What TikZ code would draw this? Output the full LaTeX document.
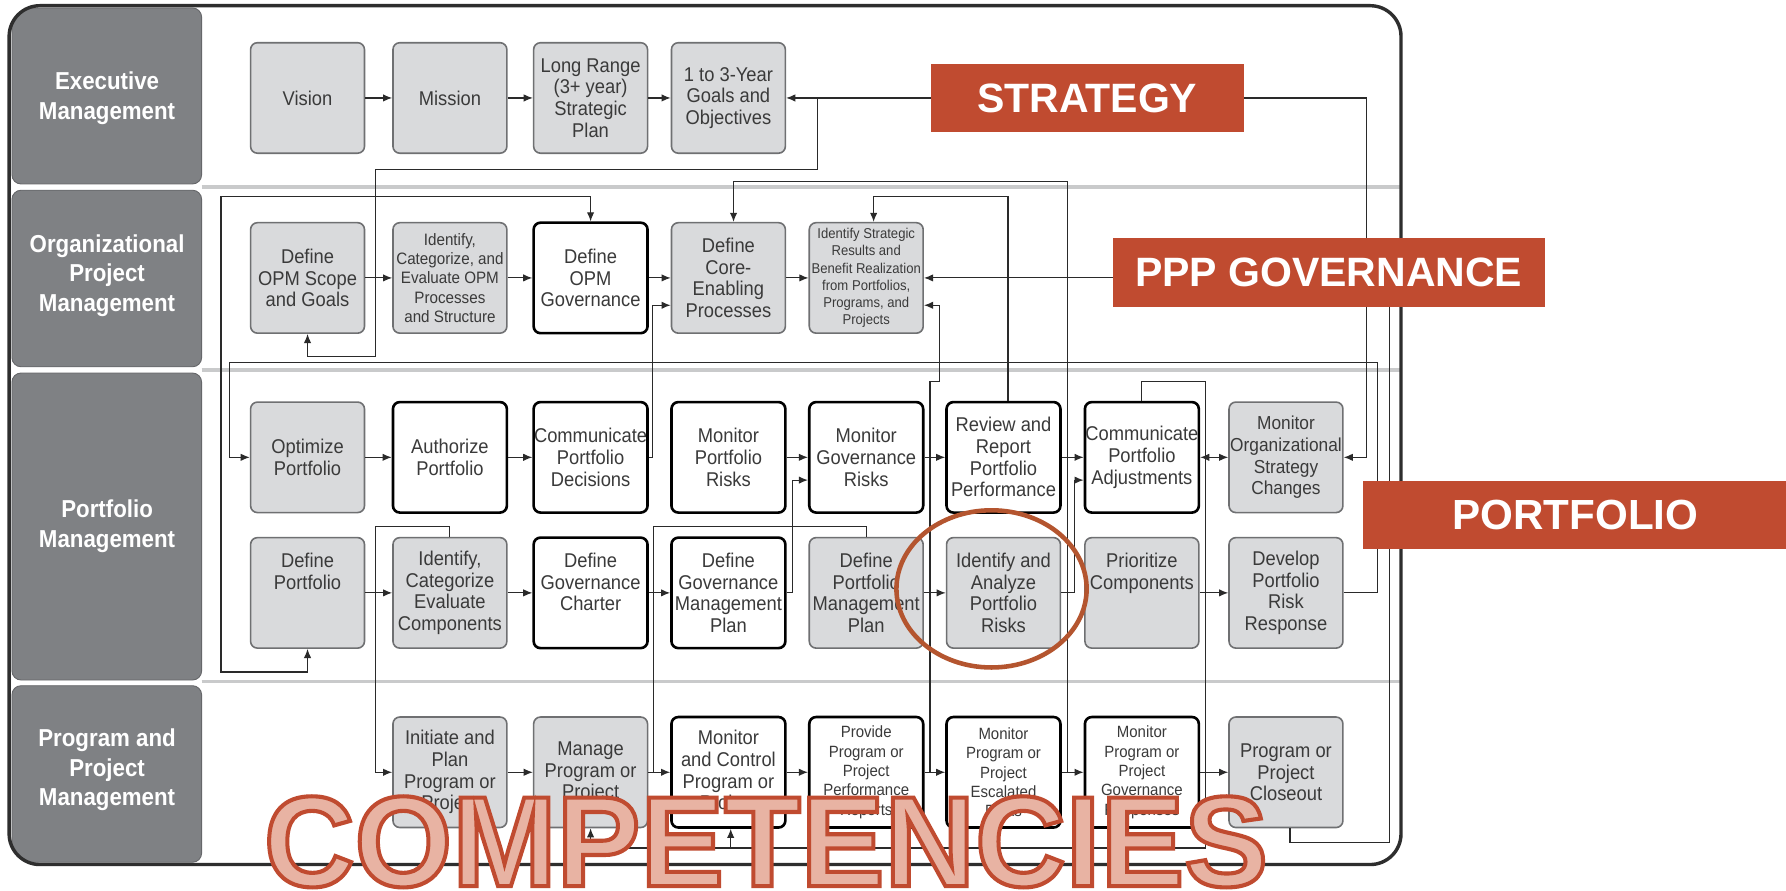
\documentclass[tikz,border=0pt]{standalone}
\usepackage{fontspec}
\setmainfont{Liberation Sans}
\newfontfamily\boxfont[FakeStretch=0.92]{Liberation Sans}
\newfontfamily\tabfont[FakeStretch=0.91]{Liberation Sans}
\newfontfamily\labfont{Liberation Sans}
\usetikzlibrary{arrows.meta,calc}
\definecolor{boxgray}{HTML}{D9DADC}
\definecolor{bordgray}{HTML}{6F7072}
\definecolor{txtgray}{HTML}{3A3A3A}
\definecolor{tabgray}{HTML}{7F8184}
\definecolor{rust}{HTML}{C04B30}
\definecolor{salmon}{HTML}{E8B3A3}
\definecolor{circc}{HTML}{B4552F}
\definecolor{lineblk}{HTML}{2A2A2A}
\definecolor{framec}{HTML}{2E2E2E}
\definecolor{sepc}{HTML}{C9CACB}
\newcommand{\outlinedword}[1]{\special{pdf:literal direct 2 Tr 3.6 w 0.753 0.294 0.188 RG}#1\special{pdf:literal direct 0 Tr}}
\begin{document}
\begin{tikzpicture}[x=1pt,y=-1pt,
  bx/.style={rounded corners=6pt, minimum width=100pt, minimum height=97pt, inner sep=0pt, align=center, text=txtgray, font=\boxfont\fontsize{17.5}{19}\selectfont},
  gbox/.style={bx, fill=boxgray, draw=bordgray, line width=1.4pt},
  wbox/.style={bx, fill=white, draw=black, line width=2.3pt},
  sm/.style={font=\boxfont\fontsize{14.3}{17}\selectfont},
  xs/.style={font=\boxfont\fontsize{12.5}{15}\selectfont},
  mid/.style={font=\boxfont\fontsize{14.5}{17}\selectfont},
  arr/.style={draw=lineblk, line width=1pt, -{Latex[length=8pt,width=6.5pt]}},
  dblarr/.style={draw=lineblk, line width=1pt, {Latex[length=8pt,width=6.5pt]}-{Latex[length=8pt,width=6.5pt]}},
  ln/.style={draw=lineblk, line width=1pt},
  sepl/.style={draw=sepc, line width=3pt},
  tabst/.style={fill=tabgray, draw=tabgray!80!black, line width=0.8pt, rounded corners=8pt},
  tabtxt/.style={text=white, align=center, font=\tabfont\bfseries\fontsize{21.5}{26}\selectfont},
  tag/.style={fill=rust, text=white, inner sep=0pt, font=\labfont\bfseries\fontsize{36}{40}\selectfont},
  circ/.style={draw=circc, line width=4pt}
]
\useasboundingbox (0,0) rectangle (1568,782);
\fill[white] (0,0) rectangle (1568,782);

% row separators
\foreach \yy in {164,325,598.5} {\draw[sepl] (177,\yy) -- (1229,\yy);}

% left tabs
\begin{scope}
\clip[rounded corners=26pt] (9,6) rectangle (1229,758);
\draw[tabst] (10.5,7) rectangle (177,161.5);
\draw[tabst] (10.5,167) rectangle (177,322);
\draw[tabst] (10.5,327.5) rectangle (177,597);
\draw[tabst] (10.5,602) rectangle (177,757);
\end{scope}
\node[tabtxt] (t1) at (94,86) {Executive\\Management};
\node[tabtxt] (t2) at (94,242) {Organizational\\Project\\Management};
\node[tabtxt] (t3) at (94,462) {Portfolio\\Management};
\node[tabtxt] (t4) at (94,676) {Program and\\Project\\Management};

% outer frame
\draw[line width=3pt, draw=framec, rounded corners=27pt] (8,5) rectangle (1230,759);

% Executive row
\node[gbox] (vision) at (270,86) {Vision};
\node[gbox] (mission) at (395,86) {Mission};
\node[gbox] (lrp) at (518.5,86) {Long Range\\(3+ year)\\Strategic\\Plan};
\node[gbox] (goals) at (639.5,86) {1 to 3-Year\\Goals and\\Objectives};

% OPM row
\node[gbox] (opmscope) at (270,244) {Define\\OPM Scope\\and Goals};
\node[gbox,mid] (opmcat) at (395,244) {Identify,\\Categorize, and\\Evaluate OPM\\Processes\\and Structure};
\node[wbox] (opmgov) at (518.5,244) {Define\\OPM\\Governance};
\node[gbox] (core) at (639.5,244) {Define\\Core-\\Enabling\\Processes};
\node[gbox,xs] (strat) at (760.5,244) {Identify Strategic\\Results and\\Benefit Realization\\from Portfolios,\\Programs, and\\Projects};

% Portfolio row 1
\node[gbox] (optport) at (270,401.5) {Optimize\\Portfolio};
\node[wbox] (authport) at (395,401.5) {Authorize\\Portfolio};
\node[wbox] (commdec) at (518.5,401.5) {Communicate\\Portfolio\\Decisions};
\node[wbox] (monrisk) at (639.5,401.5) {Monitor\\Portfolio\\Risks};
\node[wbox] (mongov) at (760.5,401.5) {Monitor\\Governance\\Risks};
\node[wbox] (review) at (881,401.5) {Review and\\Report\\Portfolio\\Performance};
\node[wbox] (commadj) at (1002.5,401.5) {Communicate\\Portfolio\\Adjustments};
\node[gbox,font=\boxfont\fontsize{16.5}{19}\selectfont] (monorg) at (1129,401.5) {Monitor\\Organizational\\Strategy\\Changes};

% Portfolio row 2
\node[gbox] (defport) at (270,520.5) {Define\\Portfolio\\~\\~};
\node[gbox] (idcomp) at (395,520.5) {Identify,\\Categorize\\Evaluate\\Components};
\node[wbox] (govchart) at (518.5,520.5) {Define\\Governance\\Charter\\~};
\node[wbox] (govplan) at (639.5,520.5) {Define\\Governance\\Management\\Plan};
\node[gbox] (pmplan) at (760.5,520.5) {Define\\Portfolio\\Management\\Plan};
\node[gbox] (idrisk) at (881,520.5) {Identify and\\Analyze\\Portfolio\\Risks};
\node[gbox] (prior) at (1002.5,520.5) {Prioritize\\Components\\~\\~};
\node[gbox] (riskresp) at (1129,520.5) {Develop\\Portfolio\\Risk\\Response};

% Program and project row
\node[gbox] (init) at (395,678) {Initiate and\\Plan\\Program or\\Project};
\node[gbox] (manage) at (518.5,678) {Manage\\Program or\\Project};
\node[wbox] (monctrl) at (639.5,678) {Monitor\\and Control\\Program or\\Project};
\node[wbox,sm] (provide) at (760.5,678) {Provide\\Program or\\Project\\Performance\\Reports};
\node[wbox,sm] (escal) at (881,678) {Monitor\\Program or\\Project\\Escalated\\Risks};
\node[wbox,sm] (govresp) at (1002.5,678) {Monitor\\Program or\\Project\\Governance\\Responses};
\node[gbox] (closeout) at (1129,678) {Program or\\Project\\Closeout};

% junction coordinates
\coordinate (s1) at (718,86);
\coordinate (j34) at (574,678);
\coordinate (j56) at (816.5,678);
\coordinate (j67) at (937,678);
\coordinate (mb) at (641.5,744.5);

% straight row arrows
\draw[arr] (vision) -- (mission);
\draw[arr] (mission) -- (lrp);
\draw[arr] (lrp) -- (goals);
\draw[arr] (opmscope) -- (opmcat);
\draw[arr] (opmcat) -- (opmgov);
\draw[arr] (opmgov) -- (core);
\draw[arr] (core) -- (strat);
\draw[arr] (optport) -- (authport);
\draw[arr] (authport) -- (commdec);
\draw[arr] (monrisk) -- (mongov);
\draw[arr] (mongov) -- (review);
\draw[arr] (review) -- (commadj);
\draw[dblarr] (commadj) -- (monorg);
\draw[arr] (defport) -- (idcomp);
\draw[arr] (idcomp) -- (govchart);
\draw[arr] (govchart) -- (govplan);
\draw[arr] (pmplan) -- (idrisk);
\draw[arr] (prior) -- (riskresp);
\draw[arr] (init) -- (manage);
\draw[arr] (manage) -- (monctrl);
\draw[arr] (monctrl) -- (provide);
\draw[arr] (provide) -- (escal);
\draw[arr] (escal) -- (govresp);
\draw[arr] (govresp) -- (closeout);

% routed connectors
\draw[dblarr] (goals.east) -- (1200,86) |- (monorg.east);
\draw[arr] (s1) |- (330,149) -- (330,313) -| (opmscope.south);
\draw[dblarr] (defport.south) -- (270,590) -| (194,172.7) -| (opmgov.north);
\draw[arr] (riskresp.east) -- (1209,520.5) |- (201.6,318) |- (optport.west);
\draw[arr] (commdec.east) -- (573,401.5) |- ([yshift=-24pt]core.west);
\draw[arr] (j67) -- (937,159.5) -| ([xshift=4.5pt]core.north);
\draw[arr] ([xshift=4pt]review.north) -- (885,172.7) -- (767,172.7) -- ([xshift=6.5pt]strat.north);
\draw[arr] (j56) -- (816.5,335) -- (825,335) |- ([yshift=-24pt]strat.east);
\draw[arr] ([xshift=3.5pt]closeout.south) -- (1132.5,740) -| (1220,244) -- (strat.east);
\draw[arr] (idrisk.east) -- (943,520.5) |- ([yshift=-20pt]commadj.west);
\draw[arr] (govplan.east) -- (695.5,520.5) |- ([yshift=-20pt]mongov.west);
\draw[arr] (commadj.north) -- (1002.5,335) -| (mb -| 1058,0) -| ([xshift=2pt]monctrl.south);
\draw[arr] (mb) -| (manage.south);
\draw[arr] (idcomp.north) -- (395,462) -| (330,678) -- (init.west);
\draw[ln] (pmplan.north) -- (760.5,462) -| (j34);

% overlay labels
\node[tag, minimum width=275pt, minimum height=60pt] (strategy) at (954.5,86) {STRATEGY};
\node[tag, minimum width=379pt, minimum height=60.5pt] (pppgov) at (1166.5,239.3) {PPP GOVERNANCE};
\node[tag, minimum width=372pt, minimum height=60pt, font=\labfont\bfseries\fontsize{37}{40}\selectfont] (portf) at (1383,452) {PORTFOLIO};

% highlight ellipse
\draw[circ] (870.5,517) ellipse [x radius=83.5pt, y radius=69pt];

% big outlined word
\node[anchor=base, inner sep=0pt, text=salmon, xscale=0.975, font=\labfont\bfseries\fontsize{113}{113}\selectfont] (comp) at (672.5,778) {\outlinedword{COMPETENCIES}};
\end{tikzpicture}
\end{document}
